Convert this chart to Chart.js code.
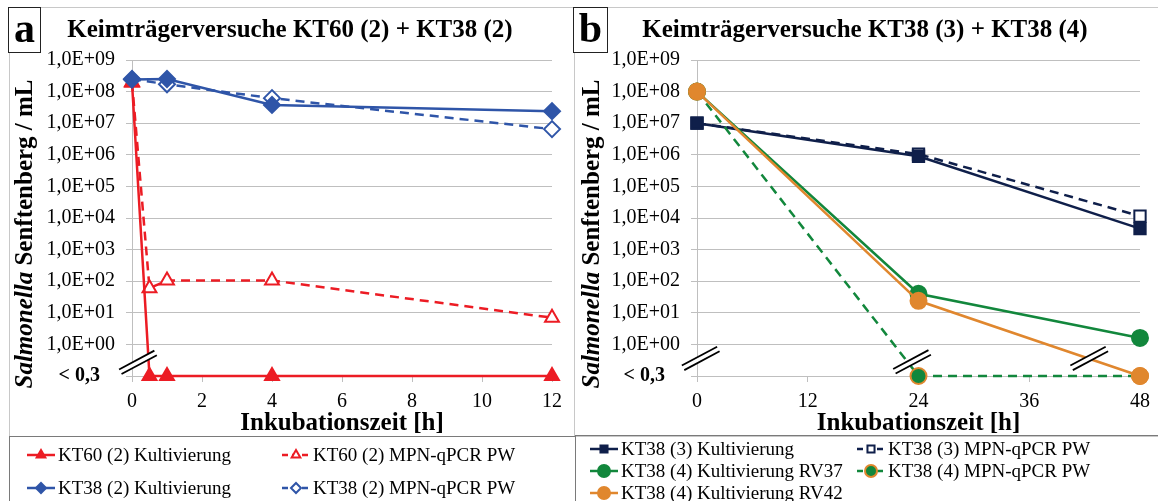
<!DOCTYPE html>
<html>
<head>
<meta charset="utf-8">
<script src="https://cdn.jsdelivr.net/npm/chart.js@4/dist/chart.umd.min.js"></script>
<style>
  body { margin: 0; background: #fff; width: 1158px; height: 501px; overflow: hidden; position: relative; font-family: 'Liberation Serif', serif; }
  canvas { position: absolute; top: 0; }
  .box { position: absolute; box-sizing: border-box; }
  .panel { border: 1px solid #c8c8c8; }
  .legendBox { border-top: 1px solid #7a7a7a; border-left: 1px solid #7a7a7a; }
  .letter { border: 1px solid #222; background: #fff; font-weight: bold; font-size: 42px; line-height: 40px; text-align: center; z-index: 2; }
</style>
</head>
<body>
<div class="box panel" style="left:9px; top:7px; width:566px; height:430px;"></div>
<div class="box panel" style="left:574px; top:7px; width:590px; height:430px;"></div>
<div class="box legendBox" style="left:9px; top:436px; width:566px; height:70px;"></div>
<div class="box legendBox" style="left:575px; top:435px; width:590px; height:70px;"></div>
<div class="box letter" style="left:8px; top:7px; width:33px; height:46px;">a</div>
<div class="box letter" style="left:573px; top:7px; width:35px; height:46px;">b</div>
<canvas id="chartA" width="575" height="501" style="left:0px;"></canvas>
<canvas id="chartB" width="583" height="501" style="left:575px;"></canvas>
<script>
// "< 0,3" values sit on the bottom line of the log axis
const BELOW = 0.1;

// y axis (shared)
const yTickValues = [0.1, 1, 10, 100, 1e3, 1e4, 1e5, 1e6, 1e7, 1e8, 1e9];
const yTickLabels = ['< 0,3   ', '1,0E+00', '1,0E+01', '1,0E+02', '1,0E+03', '1,0E+04',
                     '1,0E+05', '1,0E+06', '1,0E+07', '1,0E+08', '1,0E+09'];

// panel a
const xTicksA = [0, 2, 4, 6, 8, 10, 12];
const timesA60 = [0, 0.5, 1, 4, 12];
const kt60Kult = [1.9e8, BELOW, BELOW, BELOW, BELOW];
const kt60Mpn = [2.0e8, 60, 105, 105, 7];
const timesA38 = [0, 1, 4, 12];
const kt38Kult2 = [2.4e8, 2.5e8, 3.8e7, 2.4e7];
const kt38Mpn2 = [2.5e8, 1.7e8, 6.2e7, 6.5e6];

// panel b
const xTicksB = [0, 12, 24, 36, 48];
const timesB = [0, 24, 48];
const kt38Kult3 = [1e7, 9e5, 4.6e3];
const kt38Mpn3 = [1e7, 1.05e6, 1.15e4];
const kt38Rv37 = [1e8, 40, 1.6];
const kt38Mpn4 = [1e8, BELOW, BELOW];
const kt38Rv42 = [1e8, 24, BELOW];

const RED = '#ec1c24';
const BLUE = '#2f55a8';
const NAVY = '#0f1f4a';
const GREEN = '#12873c';
const ORANGE = '#e0872e';
const GRID = '#bfbfbf';
const SERIF = "'Liberation Serif', 'Times New Roman', serif";

Chart.defaults.font.family = SERIF;
Chart.defaults.color = '#000';

function pts(xs, ys) {
  return xs.map((x, i) => ({ x: x, y: ys[i] }));
}

function series(label, xs, ys, color, opts) {
  return Object.assign({
    label: label,
    data: pts(xs, ys),
    borderColor: color,
    backgroundColor: color,
    pointBackgroundColor: color,
    pointBorderColor: color,
    borderWidth: 2.5,
    pointBorderWidth: 2,
    pointRadius: 8,
    tension: 0,
    clip: false
  }, opts || {});
}

// double slash "axis break" mark
function breakMark(ctx, x, y) {
  const len = 20, ang = -0.49, gap = 2.6;
  const dx = Math.cos(ang) * len, dy = Math.sin(ang) * len;
  const nx = -Math.sin(ang) * gap, ny = Math.cos(ang) * gap;
  ctx.save();
  ctx.lineCap = 'butt';
  ctx.strokeStyle = '#fff';
  ctx.lineWidth = 6;
  ctx.beginPath(); ctx.moveTo(x - dx, y - dy); ctx.lineTo(x + dx, y + dy); ctx.stroke();
  ctx.strokeStyle = '#000';
  ctx.lineWidth = 1.8;
  [-1, 1].forEach(s => {
    ctx.beginPath();
    ctx.moveTo(x - dx + s * nx, y - dy + s * ny);
    ctx.lineTo(x + dx + s * nx, y + dy + s * ny);
    ctx.stroke();
  });
  ctx.restore();
}

function legendItem(ctx, x, y, text, st) {
  ctx.save();
  ctx.strokeStyle = st.color;
  ctx.lineWidth = 2.5;
  ctx.setLineDash(st.dash ? [6, 4] : []);
  ctx.beginPath(); ctx.moveTo(x, y); ctx.lineTo(x + 28, y); ctx.stroke();
  ctx.setLineDash([]);
  ctx.fillStyle = st.fill;
  ctx.strokeStyle = st.border || st.color;
  ctx.lineWidth = 2;
  Chart.helpers.drawPoint(ctx, { pointStyle: st.style, radius: st.radius || 5, rotation: 0, borderWidth: 2 }, x + 14, y);
  ctx.fillStyle = '#000';
  ctx.font = '19px ' + SERIF;
  ctx.textBaseline = 'middle';
  ctx.textAlign = 'left';
  ctx.fillText(text, x + 31, y + 1);
  ctx.restore();
}

const decor = {
  id: 'decor',
  afterDatasetsDraw(chart, args, o) {
    const ctx = chart.ctx;
    const xs = chart.scales.x, ys = chart.scales.y;
    o.breaks.forEach(b => breakMark(ctx, xs.getPixelForValue(b[0]), ys.getPixelForValue(b[1])));
  },
  afterDraw(chart, args, o) {
    const ctx = chart.ctx;
    const area = chart.chartArea;
    ctx.save();
    // title
    ctx.fillStyle = '#000';
    ctx.font = 'bold 25px ' + SERIF;
    ctx.textAlign = 'center';
    ctx.textBaseline = 'middle';
    ctx.fillText(o.title, o.titleX, 31);
    // y title: "Salmonella" italic + rest upright
    const part1 = 'Salmonella', part2 = ' Senftenberg / mL';
    const f1 = 'italic bold 25px ' + SERIF, f2 = 'bold 25px ' + SERIF;
    ctx.font = f1; const w1 = ctx.measureText(part1).width;
    ctx.font = f2; const w2 = ctx.measureText(part2).width;
    ctx.translate(o.yTitleX, (area.top + area.bottom) / 2 + 16);
    ctx.rotate(-Math.PI / 2);
    ctx.textAlign = 'left';
    ctx.textBaseline = 'alphabetic';
    ctx.font = f1; ctx.fillText(part1, -(w1 + w2) / 2, 0);
    ctx.font = f2; ctx.fillText(part2, -(w1 + w2) / 2 + w1, 0);
    ctx.restore();
    // legend
    o.legend.forEach(it => legendItem(ctx, it.x, it.y, it.text, it.st));
  }
};

function yScale() {
  return {
    type: 'logarithmic',
    min: 0.1,
    max: 1e9,
    afterBuildTicks: s => { s.ticks = yTickValues.map(v => ({ value: v })); },
    afterFit: s => { s.width = s.chart.options.fixedYWidth; },
    ticks: {
      padding: 11,
      callback: v => yTickLabels[yTickValues.indexOf(v)],
      font: c => ({ size: 20, weight: c.tick && c.tick.value === 0.1 ? 'bold' : 'normal' })
    },
    grid: { color: GRID, tickLength: 6 },
    border: { color: GRID }
  };
}

function xScale(max, ticks) {
  return {
    type: 'linear',
    min: 0,
    max: max,
    afterBuildTicks: s => { s.ticks = ticks.map(v => ({ value: v })); },
    afterFit: s => { s.height = 65; },
    ticks: { padding: 8, font: { size: 20 } },
    grid: { drawOnChartArea: false, color: GRID, tickLength: 6 },
    border: { color: GRID },
    title: { display: true, text: 'Inkubationszeit [h]', font: { size: 25, weight: 'bold' }, padding: { top: 0, bottom: 2 } }
  };
}

function baseOptions(yWidth, padRight, maxX, xTicks, decorOpts) {
  return {
    responsive: false,
    animation: false,
    devicePixelRatio: 1,
    fixedYWidth: yWidth,
    layout: { padding: { left: 0, right: padRight, top: 60, bottom: 60 } },
    scales: { x: xScale(maxX, xTicks), y: yScale() },
    plugins: { legend: { display: false }, tooltip: { enabled: false }, title: { display: false }, decor: decorOpts }
  };
}

const L1 = { color: RED, fill: RED, style: 'triangle' };
const L2 = { color: RED, fill: '#fff', style: 'triangle', dash: true };
const L3 = { color: BLUE, fill: BLUE, style: 'rectRot' };
const L4 = { color: BLUE, fill: '#fff', style: 'rectRot', dash: true };

new Chart(document.getElementById('chartA'), {
  type: 'line',
  data: {
    datasets: [
      series('KT38 (2) Kultivierung', timesA38, kt38Kult2, BLUE, { pointStyle: 'rectRot', order: 0 }),
      series('KT38 (2) MPN-qPCR PW', timesA38, kt38Mpn2, BLUE, { pointStyle: 'rectRot', borderDash: [9, 6], pointBackgroundColor: '#fff', order: 1 }),
      series('KT60 (2) Kultivierung', timesA60, kt60Kult, RED, { pointStyle: 'triangle', order: 2 }),
      series('KT60 (2) MPN-qPCR PW', timesA60, kt60Mpn, RED, { pointStyle: 'triangle', borderDash: [9, 6], pointBackgroundColor: '#fff', order: 3 })
    ]
  },
  options: baseOptions(132, 23, 12, xTicksA, {
    title: 'Keimträgerversuche KT60 (2) + KT38 (2)',
    titleX: 290,
    yTitleX: 32,
    breaks: [[0.17, 0.27]],
    legend: [
      { x: 27, y: 455, text: 'KT60 (2) Kultivierung', st: L1 },
      { x: 282, y: 455, text: 'KT60 (2) MPN-qPCR PW', st: L2 },
      { x: 27, y: 488, text: 'KT38 (2) Kultivierung', st: L3 },
      { x: 282, y: 488, text: 'KT38 (2) MPN-qPCR PW', st: L4 }
    ]
  })
  , plugins: [decor]
});

const M1 = { color: NAVY, fill: NAVY, style: 'rect' };
const M2 = { color: NAVY, fill: '#fff', style: 'rect', dash: true };
const M3 = { color: GREEN, fill: GREEN, style: 'circle', radius: 6 };
const M4 = { color: GREEN, fill: GREEN, border: ORANGE, style: 'circle', radius: 6, dash: true };
const M5 = { color: ORANGE, fill: ORANGE, style: 'circle', radius: 6 };

new Chart(document.getElementById('chartB'), {
  type: 'line',
  data: {
    datasets: [
      series('KT38 (4) Kultivierung RV42', timesB, kt38Rv42, ORANGE, { pointStyle: 'circle', order: 0 }),
      series('KT38 (4) Kultivierung RV37', timesB, kt38Rv37, GREEN, { pointStyle: 'circle', order: 1 }),
      series('KT38 (4) MPN-qPCR PW', timesB, kt38Mpn4, GREEN, { pointStyle: 'circle', borderDash: [9, 6], pointBorderColor: ORANGE, order: 2 }),
      series('KT38 (3) Kultivierung', timesB, kt38Kult3, NAVY, { pointStyle: 'rect', order: 3 }),
      series('KT38 (3) MPN-qPCR PW', timesB, kt38Mpn3, NAVY, { pointStyle: 'rect', borderDash: [9, 6], pointBackgroundColor: '#fff', order: 4 })
    ]
  },
  options: baseOptions(122, 14, 48, xTicksB, {
    title: 'Keimträgerversuche KT38 (3) + KT38 (4)',
    titleX: 290,
    yTitleX: 24,
    breaks: [[0.4, 0.36], [23.3, 0.28], [42.5, 0.36]],
    legend: [
      { x: 15, y: 449, text: 'KT38 (3) Kultivierung', st: M1 },
      { x: 282, y: 449, text: 'KT38 (3) MPN-qPCR PW', st: M2 },
      { x: 15, y: 471, text: 'KT38 (4) Kultivierung RV37', st: M3 },
      { x: 282, y: 471, text: 'KT38 (4) MPN-qPCR PW', st: M4 },
      { x: 15, y: 493, text: 'KT38 (4) Kultivierung RV42', st: M5 }
    ]
  })
  , plugins: [decor]
});
</script>
</body>
</html>
